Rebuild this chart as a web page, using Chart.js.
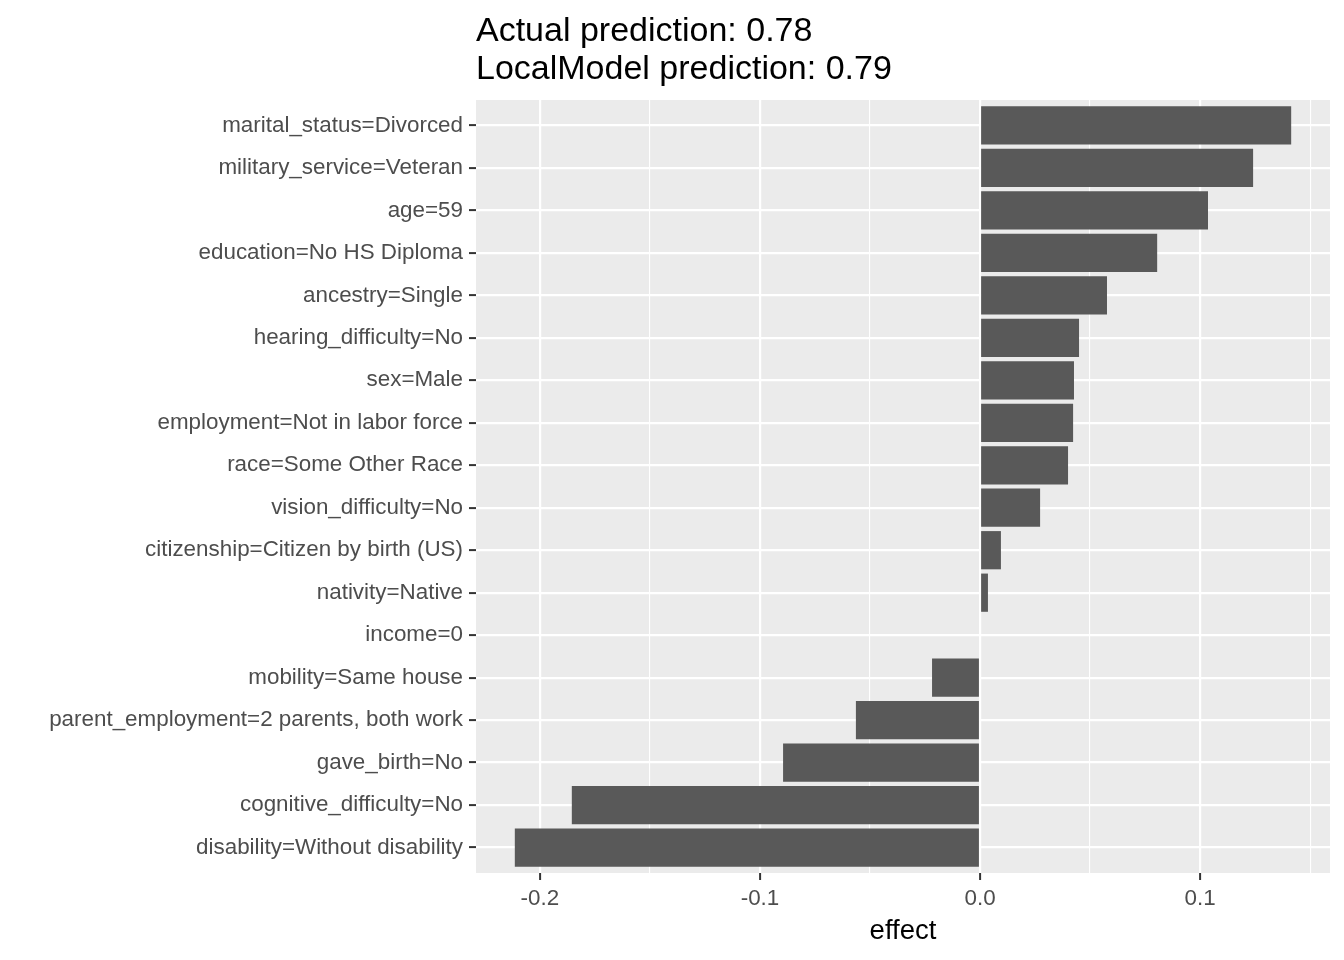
<!DOCTYPE html>
<html>
<head>
<meta charset="utf-8">
<script src="https://cdn.jsdelivr.net/npm/chart.js@4/dist/chart.umd.min.js"></script>
<style>
  html, body { margin: 0; padding: 0; background: #ffffff; }
  canvas { display: block; }
</style>
</head>
<body>
<canvas id="c" width="1344" height="960"></canvas>
<script>
// ---- data ----
const titleLines = ["Actual prediction: 0.78", "LocalModel prediction: 0.79"];
const features = [
  "marital_status=Divorced",
  "military_service=Veteran",
  "age=59",
  "education=No HS Diploma",
  "ancestry=Single",
  "hearing_difficulty=No",
  "sex=Male",
  "employment=Not in labor force",
  "race=Some Other Race",
  "vision_difficulty=No",
  "citizenship=Citizen by birth (US)",
  "nativity=Native",
  "income=0",
  "mobility=Same house",
  "parent_employment=2 parents, both work",
  "gave_birth=No",
  "cognitive_difficulty=No",
  "disability=Without disability"
];
const effects = [
  0.1414, 0.1241, 0.1036, 0.0805, 0.0577, 0.0450, 0.0427, 0.0423, 0.0400,
  0.0273, 0.0095, 0.0036, 0.0, -0.0218, -0.0564, -0.0895, -0.1855, -0.2114
];
const xMajorTicks = [-0.2, -0.1, 0.0, 0.1];
const xMinorTicks = [-0.15, -0.05, 0.05, 0.15];
const xAxisTitle = "effect";

// ---- chart ----
const dMin = Math.min(...effects), dMax = Math.max(...effects);
const span = dMax - dMin;
const xMin = dMin - 0.05 * span, xMax = dMax + 0.05 * span;
const isMajor = v => xMajorTicks.some(t => Math.abs(t - v) < 1e-9);

const FONT = "'Liberation Sans', Arial, sans-serif";

const panelBg = {
  id: 'panelBg',
  beforeDraw(chart) {
    const {ctx, chartArea: a} = chart;
    ctx.save();
    ctx.fillStyle = '#EBEBEB';
    ctx.fillRect(a.left, a.top, a.right - a.left, a.bottom - a.top);
    ctx.restore();
  }
};

const topTitle = {
  id: 'topTitle',
  afterDraw(chart) {
    const {ctx, chartArea: a} = chart;
    ctx.save();
    ctx.fillStyle = '#000000';
    ctx.font = "34px " + FONT;
    ctx.textAlign = 'left';
    ctx.textBaseline = 'alphabetic';
    ctx.fillText(titleLines[0], a.left, 41);
    ctx.fillText(titleLines[1], a.left, 79);
    ctx.restore();
  }
};

new Chart(document.getElementById('c'), {
  type: 'bar',
  data: {
    datasets: [{
      data: effects.map((v, i) => ({x: v, y: i})),
      backgroundColor: '#595959',
      borderWidth: 0,
      categoryPercentage: 0.9,
      barPercentage: 1.0
    }]
  },
  options: {
    indexAxis: 'y',
    responsive: false,
    animation: false,
    devicePixelRatio: 1,
    layout: { padding: { top: 100, left: 0, right: 14, bottom: 0 } },
    plugins: {
      legend: { display: false },
      tooltip: { enabled: false },
      title: { display: false }
    },
    scales: {
      x: {
        type: 'linear',
        position: 'bottom',
        min: xMin,
        max: xMax,
        offset: false,
        afterBuildTicks(scale) {
          scale.ticks = xMajorTicks.concat(xMinorTicks).sort((a, b) => a - b).map(v => ({value: v}));
        },
        afterFit(scale) { scale.height = 87; },
        border: { display: false },
        grid: {
          offset: false,
          color: '#FFFFFF',
          lineWidth: ctx => (ctx.tick && isMajor(ctx.tick.value)) ? 2.2 : 1.1,
          drawTicks: true,
          tickLength: 7,
          tickWidth: 2,
          tickColor: ctx => (ctx.tick && isMajor(ctx.tick.value)) ? '#333333' : 'rgba(0,0,0,0)'
        },
        ticks: {
          autoSkip: false,
          maxRotation: 0,
          padding: 5,
          color: '#4D4D4D',
          font: { family: FONT, size: 22.4 },
          callback: v => isMajor(v) ? v.toFixed(1) : ''
        },
        title: {
          display: true,
          text: xAxisTitle,
          color: '#000000',
          font: { family: FONT, size: 27.5 },
          padding: { top: 0, bottom: 12 }
        }
      },
      y: {
        type: 'linear',
        position: 'left',
        reverse: true,
        offset: false,
        min: -0.6,
        max: features.length - 1 + 0.6,
        afterBuildTicks(scale) {
          scale.ticks = features.map((f, i) => ({value: i}));
        },
        afterFit(scale) { scale.width = 476; },
        border: { display: false },
        grid: {
          offset: false,
          color: '#FFFFFF',
          lineWidth: 2.2,
          drawTicks: true,
          tickLength: 7,
          tickWidth: 2,
          tickColor: '#333333'
        },
        ticks: {
          autoSkip: false,
          padding: 6,
          color: '#4D4D4D',
          font: { family: FONT, size: 22.4 },
          callback: v => features[v]
        }
      }
    }
  },
  plugins: [panelBg, topTitle]
});
</script>
</body>
</html>
